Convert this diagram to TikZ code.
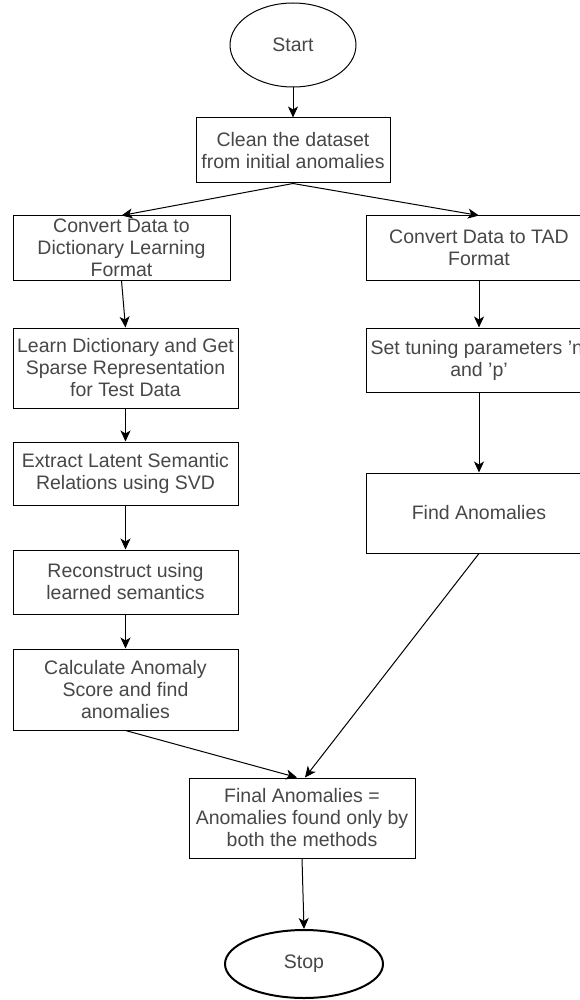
\documentclass[tikz,border=0pt]{standalone}
\usepackage{fontspec}
\setmainfont{Liberation Sans}
\usetikzlibrary{shapes.geometric,arrows.meta}
\begin{document}
\begin{tikzpicture}[x=1pt,y=-1pt,
  every node/.style={font=\fontsize{19.5}{22}\selectfont, text=black!72, align=center},
  box/.style={draw=black, line width=1pt, rectangle, inner sep=2pt},
  oval/.style={draw=black, ellipse, inner sep=0pt},
  arr/.style={draw=black, line width=1pt, -{Stealth[length=11pt,width=10pt,inset=3pt]}}
]
\useasboundingbox (0,0) rectangle (580,1000);
\clip (0,0) rectangle (580,1000);
\fill[white] (0,0) rectangle (580,1000);

\node[oval, line width=1pt, minimum width=126pt, minimum height=84pt] (start) at (293,45) {Start};
\node[box, minimum width=194pt, minimum height=65pt] (clean) at (293,150.5) {Clean the dataset\\from initial anomalies};

\node[box, minimum width=217pt, minimum height=64pt] (l1) at (121.5,248) {Convert Data to\\Dictionary Learning\\Format};
\node[box, minimum width=225pt, minimum height=80pt] (l2) at (125.5,368) {Learn Dictionary and Get\\Sparse Representation\\for Test Data};
\node[box, minimum width=225pt, minimum height=63pt] (l3) at (125.5,473.5) {Extract Latent Semantic\\Relations using SVD};
\node[box, minimum width=225pt, minimum height=64pt] (l4) at (125.5,582) {Reconstruct using\\learned semantics};
\node[box, minimum width=225pt, minimum height=81pt] (l5) at (125.5,689.5) {Calculate Anomaly\\Score and find\\anomalies};

\node[box, minimum width=226pt, minimum height=64pt] (r1) at (479,248) {Convert Data to TAD\\Format};
\node[box, minimum width=226pt, minimum height=64pt] (r2) at (479,360) {Set tuning parameters 'n'\\and 'p'};
\node[box, minimum width=226pt, minimum height=80pt] (r3) at (479,513) {Find Anomalies};

\node[box, minimum width=226pt, minimum height=80pt] (final) at (302,818) {Final Anomalies =\\Anomalies found only by\\both the methods};
\node[oval, line width=2pt, minimum width=158pt, minimum height=68pt] (stop) at (304,964) {Stop};

\draw[arr] (start) -- (clean);
\draw[arr] (clean.south) -- (l1.north);
\draw[arr] (clean.south) -- (r1.north);
\draw[arr] (l1.south) -- (l2.north);
\draw[arr] (l2) -- (l3);
\draw[arr] (l3) -- (l4);
\draw[arr] (l4) -- (l5);
\draw[arr] (r1) -- (r2);
\draw[arr] (r2) -- (r3);
\draw[arr] (l5.south) -- ([xshift=-5pt]final.north);
\draw[arr] (r3.south) -- ([xshift=3pt]final.north);
\draw[arr] (final.south) -- (stop.north);
\end{tikzpicture}
\end{document}
